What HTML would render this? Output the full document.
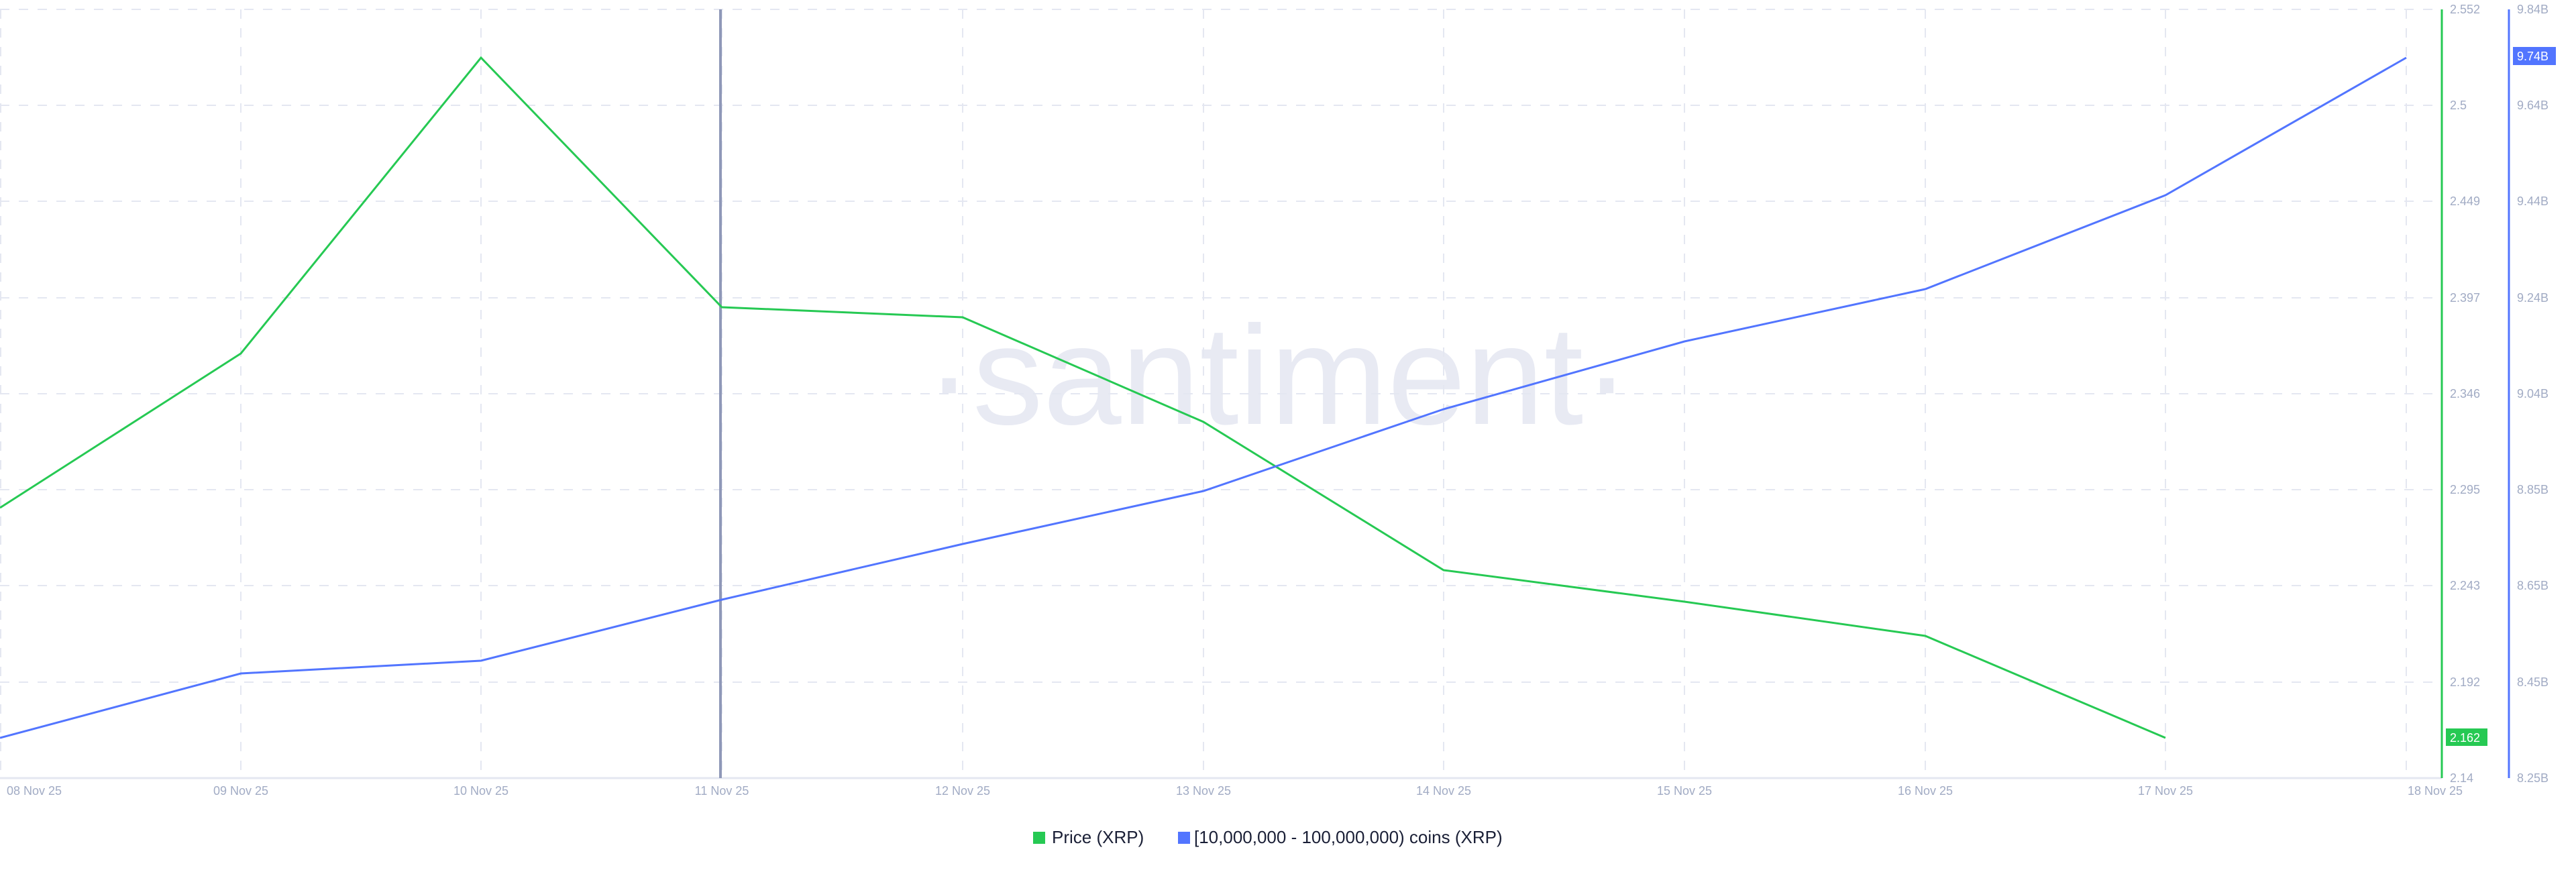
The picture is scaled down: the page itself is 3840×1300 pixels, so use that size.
<!DOCTYPE html>
<html><head><meta charset="utf-8"><style>
html,body{margin:0;padding:0;background:#fff;width:3840px;height:1300px;overflow:hidden}
svg{display:block}
text{font-family:"Liberation Sans",sans-serif}
</style></head><body>
<svg width="3840" height="1300" viewBox="0 0 3840 1300" xmlns="http://www.w3.org/2000/svg">
<text x="1905" y="632" text-anchor="middle" font-size="210" fill="#e8eaf3">·santiment·</text>
<g stroke="#e4e7f1" stroke-width="2" stroke-dasharray="14 14">
<line x1="0" y1="14" x2="3640" y2="14"/><line x1="0" y1="157" x2="3640" y2="157"/><line x1="0" y1="300" x2="3640" y2="300"/><line x1="0" y1="444" x2="3640" y2="444"/><line x1="0" y1="587" x2="3640" y2="587"/><line x1="0" y1="730" x2="3640" y2="730"/><line x1="0" y1="873" x2="3640" y2="873"/><line x1="0" y1="1017" x2="3640" y2="1017"/>
<line x1="1" y1="14" x2="1" y2="1160"/><line x1="359" y1="14" x2="359" y2="1160"/><line x1="717" y1="14" x2="717" y2="1160"/><line x1="1076" y1="14" x2="1076" y2="1160"/><line x1="1435" y1="14" x2="1435" y2="1160"/><line x1="1794" y1="14" x2="1794" y2="1160"/><line x1="2152" y1="14" x2="2152" y2="1160"/><line x1="2511" y1="14" x2="2511" y2="1160"/><line x1="2870" y1="14" x2="2870" y2="1160"/><line x1="3228" y1="14" x2="3228" y2="1160"/><line x1="3587" y1="14" x2="3587" y2="1160"/>
</g>
<line x1="0" y1="1160" x2="3640" y2="1160" stroke="#e4e7f1" stroke-width="3"/>
<line x1="1074" y1="14" x2="1074" y2="1160" stroke="#8f98b8" stroke-width="4"/>
<polyline fill="none" stroke="#26c953" stroke-width="3" points="0,757 359,527 717,86 1076,458 1435,473 1794,629 2152,850 2511,897 2870,948 3228,1100"/>
<polyline fill="none" stroke="#5275ff" stroke-width="3" points="0,1100 359,1004 717,985 1076,894 1435,811 1794,732 2152,610 2511,509 2870,431 3228,291 3587,86"/>
<line x1="3640" y1="14" x2="3640" y2="1160" stroke="#26c953" stroke-width="3"/>
<line x1="3740" y1="14" x2="3740" y2="1160" stroke="#5275ff" stroke-width="3"/>
<g font-size="18" fill="#a1abc4">
<text x="3652" y="20">2.552</text><text x="3652" y="163">2.5</text><text x="3652" y="306">2.449</text><text x="3652" y="450">2.397</text><text x="3652" y="593">2.346</text><text x="3652" y="736">2.295</text><text x="3652" y="879">2.243</text><text x="3652" y="1023">2.192</text><text x="3652" y="1166">2.14</text>
<text x="3752" y="20">9.84B</text><text x="3752" y="163">9.64B</text><text x="3752" y="306">9.44B</text><text x="3752" y="450">9.24B</text><text x="3752" y="593">9.04B</text><text x="3752" y="736">8.85B</text><text x="3752" y="879">8.65B</text><text x="3752" y="1023">8.45B</text><text x="3752" y="1166">8.25B</text>
</g>
<rect x="3746" y="70" width="64" height="27" fill="#5275ff"/>
<text x="3752" y="90" font-size="18" fill="#fff">9.74B</text>
<rect x="3646" y="1086" width="62" height="26" fill="#26c953"/>
<text x="3652" y="1106" font-size="18" fill="#fff">2.162</text>
<g font-size="18" fill="#a1abc4" text-anchor="middle">
<text x="10" y="1185" text-anchor="start">08 Nov 25</text><text x="359" y="1185">09 Nov 25</text><text x="717" y="1185">10 Nov 25</text><text x="1076" y="1185">11 Nov 25</text><text x="1435" y="1185">12 Nov 25</text><text x="1794" y="1185">13 Nov 25</text><text x="2152" y="1185">14 Nov 25</text><text x="2511" y="1185">15 Nov 25</text><text x="2870" y="1185">16 Nov 25</text><text x="3228" y="1185">17 Nov 25</text><text x="3630" y="1185">18 Nov 25</text>
</g>
<rect x="1540" y="1240" width="18" height="18" fill="#26c953"/>
<text x="1568" y="1257" font-size="26" fill="#1a1f36">Price (XRP)</text>
<rect x="1756" y="1240" width="18" height="18" fill="#5275ff"/>
<text x="1780" y="1257" font-size="26" fill="#1a1f36">[10,000,000 - 100,000,000) coins (XRP)</text>
</svg>
</body></html>
